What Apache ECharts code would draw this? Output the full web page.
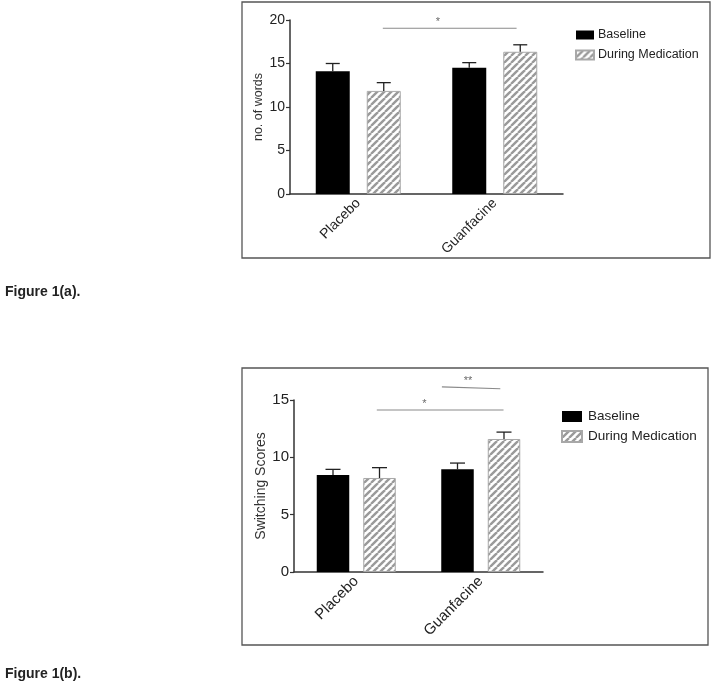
<!DOCTYPE html>
<html><head><meta charset="utf-8">
<script src="https://cdn.jsdelivr.net/npm/echarts@6/dist/echarts.min.js"></script>
<style>html,body{margin:0;padding:0;background:#fff}#c{width:714px;height:692px}</style>
</head><body><div id="c"></div>
<script>
// ---- data ----
const categories = ['Placebo', 'Guanfacine'];
const seriesNames = ['Baseline', 'During Medication'];
// Figure 1(a): no. of words
const wordsBaseline = [14.1, 14.5];
const wordsBaselineErr = [0.9, 0.6];
const wordsMed = [11.85, 16.35];
const wordsMedErr = [0.95, 0.8];
// Figure 1(b): switching scores
const switchBaseline = [8.45, 8.95];
const switchBaselineErr = [0.5, 0.55];
const switchMed = [8.2, 11.6];
const switchMedErr = [0.9, 0.6];
// significance brackets (x in category units, y in data units)
const sigA = [{ from: [0.18, 19.05], to: [1.16, 19.05], star: '*', at: [0.584, 19.05] }];
const sigB = [
  { from: [0.165, 14.13], to: [1.183, 14.13], star: '*', at: [0.548, 14.13] },
  { from: [0.688, 16.15], to: [1.157, 15.98], star: '**', at: [0.897, 16.1] }
];
const yMaxA = 20, yMaxB = 15, yStep = 5;

// ---- hatch pattern ----
function makeHatch() {
  const s = 7, cv = document.createElement('canvas');
  cv.width = s; cv.height = s;
  const g = cv.getContext('2d');
  g.fillStyle = '#fff'; g.fillRect(0, 0, s, s);
  g.strokeStyle = '#9a9a9a'; g.lineWidth = 2.4;
  for (const o of [-s, 0, s]) {
    g.beginPath(); g.moveTo(o, s); g.lineTo(o + s, 0); g.stroke();
  }
  return { image: cv, repeat: 'repeat' };
}
const hatch = makeHatch();

const chart = echarts.init(document.getElementById('c'), null, { renderer: 'canvas' });

const barA = { w: 34, gap: 17 };
const barB = { w: 32.5, gap: 14 };

function errSeries(xi, yi, vals, errs, offset, cap) {
  return {
    type: 'custom', xAxisIndex: xi, yAxisIndex: yi, z: 5,
    encode: { x: 0, y: 1 },
    data: vals.map((v, i) => [i, v, errs[i]]),
    renderItem: function (params, api) {
      const c = api.value(0), v = api.value(1), e = api.value(2);
      const p0 = api.coord([c, v]);
      const p1 = api.coord([c, v + e]);
      const x = p0[0] + offset;
      const st = { stroke: '#222', lineWidth: 1.3 };
      return {
        type: 'group', children: [
          { type: 'line', shape: { x1: x, y1: p0[1], x2: x, y2: p1[1] }, style: st },
          { type: 'line', shape: { x1: x - cap / 2, y1: p1[1], x2: x + cap / 2, y2: p1[1] }, style: st }
        ]
      };
    }
  };
}

function sigSeries(xi, yi, list) {
  const out = [];
  list.forEach(s => {
    out.push({
      type: 'line', xAxisIndex: xi, yAxisIndex: yi, clip: false, symbol: 'none', silent: true,
      lineStyle: { color: '#8a8a8a', width: 1.2 },
      data: [s.from, s.to]
    });
    out.push({
      type: 'scatter', xAxisIndex: xi, yAxisIndex: yi, clip: false, symbolSize: 0, silent: true,
      data: [[s.at[0], s.at[1], s.star]],
      label: { show: true, position: 'top', distance: 1, formatter: p => p.data[2], fontSize: 11, color: '#444', fontFamily: 'Liberation Sans' }
    });
  });
  return out;
}

const catAxis = (gi, fs) => ({
  type: 'category', gridIndex: gi, data: categories,
  axisLine: { onZero: false, lineStyle: { color: '#333', width: 1.5 } },
  axisTick: { alignWithLabel: true, length: 4, lineStyle: { color: '#333', width: 1.2 } },
  axisLabel: { rotate: 45, fontSize: fs, color: '#222', fontFamily: 'Liberation Sans', margin: 7 }
});
const valAxis = (gi, max, name, nfs, gap, lfs) => ({
  type: 'value', gridIndex: gi, min: 0, max: max, interval: yStep,
  name: name, nameLocation: 'middle', nameGap: gap,
  nameTextStyle: { fontSize: nfs, color: '#333', fontFamily: 'Liberation Sans' },
  axisLine: { show: true, onZero: false, lineStyle: { color: '#333', width: 1.5 } },
  axisTick: { show: true, length: 4, lineStyle: { color: '#333', width: 1.2 } },
  axisLabel: { fontSize: lfs, color: '#222', fontFamily: 'Liberation Sans', margin: 5 },
  splitLine: { show: false }
});
const hidX = (gi) => ({ type: 'value', gridIndex: gi, min: -0.5, max: 1.5, show: false });

const blackStyle = { color: '#000' };
const hatchStyle = { color: hatch, borderColor: '#a8a8a8', borderWidth: 1 };

const option = {
  animation: false,
  backgroundColor: '#fff',
  grid: [
    { left: 290, top: 20, right: 151, bottom: 498 },
    { left: 294, top: 400, right: 171, bottom: 120 }
  ],
  xAxis: [catAxis(0, 14), catAxis(1, 15), hidX(0), hidX(1)],
  yAxis: [
    valAxis(0, yMaxA, 'no. of words', 12.5, 20, 14),
    valAxis(1, yMaxB, 'Switching Scores', 14, 25, 15)
  ],
  legend: [
    {
      data: seriesNames, orient: 'vertical', left: 570, top: 23,
      itemWidth: 18, itemHeight: 9, itemGap: 6, icon: 'rect',
      textStyle: { fontSize: 12.5, lineHeight: 14, color: '#222', fontFamily: 'Liberation Sans', padding: [0, 0, 0, -1] }
    },
    {
      data: seriesNames, orient: 'vertical', left: 556, top: 404,
      itemWidth: 20, itemHeight: 11, itemGap: 5, icon: 'rect',
      textStyle: { fontSize: 13.5, lineHeight: 15, color: '#222', fontFamily: 'Liberation Sans', padding: [0, 0, 0, 1] }
    }
  ],
  graphic: [
    { type: 'rect', shape: { x: 242, y: 2, width: 468, height: 256 }, style: { fill: 'none', stroke: '#555', lineWidth: 1.3 }, silent: true },
    { type: 'rect', shape: { x: 242, y: 368, width: 466, height: 277 }, style: { fill: 'none', stroke: '#555', lineWidth: 1.3 }, silent: true },
    { type: 'text', left: 5, top: 285, style: { text: 'Figure 1(a).', font: 'bold 14px "Liberation Sans"', fill: '#222' } },
    { type: 'text', left: 5, top: 667, style: { text: 'Figure 1(b).', font: 'bold 14px "Liberation Sans"', fill: '#222' } }
  ],
  series: [
    { name: seriesNames[0], type: 'bar', xAxisIndex: 0, yAxisIndex: 0, barWidth: barA.w, barGap: (barA.gap / barA.w * 100) + '%', itemStyle: blackStyle, data: wordsBaseline },
    { name: seriesNames[1], type: 'bar', xAxisIndex: 0, yAxisIndex: 0, barWidth: barA.w, barGap: (barA.gap / barA.w * 100) + '%', itemStyle: hatchStyle, data: wordsMed },
    { name: seriesNames[0], type: 'bar', xAxisIndex: 1, yAxisIndex: 1, barWidth: barB.w, barGap: (barB.gap / barB.w * 100) + '%', itemStyle: blackStyle, data: switchBaseline },
    { name: seriesNames[1], type: 'bar', xAxisIndex: 1, yAxisIndex: 1, barWidth: barB.w, barGap: (barB.gap / barB.w * 100) + '%', itemStyle: hatchStyle, data: switchMed },
    errSeries(0, 0, wordsBaseline, wordsBaselineErr, -(barA.w + barA.gap) / 2, 14),
    errSeries(0, 0, wordsMed, wordsMedErr, (barA.w + barA.gap) / 2, 14),
    errSeries(1, 1, switchBaseline, switchBaselineErr, -(barB.w + barB.gap) / 2, 15),
    errSeries(1, 1, switchMed, switchMedErr, (barB.w + barB.gap) / 2, 15),
    ...sigSeries(2, 0, sigA),
    ...sigSeries(3, 1, sigB)
  ]
};
chart.setOption(option);
</script>
</body></html>
